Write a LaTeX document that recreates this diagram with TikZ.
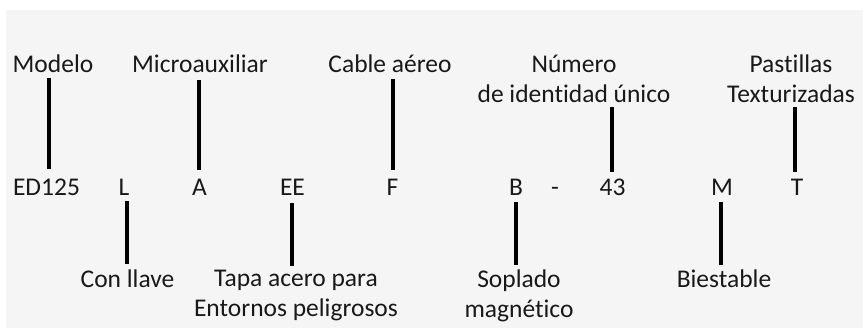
\documentclass[tikz,border=0pt]{standalone}
\usepackage{fontspec}
\setmainfont{Carlito}[RawFeature={-liga}]
\definecolor{txt}{RGB}{25,25,25}
\definecolor{bgc}{RGB}{245,245,245}
\begin{document}
\begin{tikzpicture}[x=1pt,y=-1pt,
  lbl/.style={anchor=base,inner sep=0pt,text=txt,font=\fontsize{25.5}{29.5}\selectfont,align=center},
  conn/.style={line width=3.6pt,black}]
\useasboundingbox (0,0) rectangle (863,328);
\fill[bgc] (6,10) rectangle (863,328);
% top labels
\node[lbl] (modelo) at (53,73) {Modelo};
\node[lbl] (micro) at (200,73) {Microauxiliar};
\node[lbl] (cable) at (390,73) {Cable aéreo};
\node[lbl,anchor=north] (numero) at (574,55) {Número\\de identidad único};
\node[lbl,anchor=north] (pastillas) at (791,55) {Pastillas\\Texturizadas};
% middle row
\node[lbl] (ed) at (46.5,196) {ED125};
\node[lbl] (l) at (124,196) {L};
\node[lbl] (a) at (199.5,196) {A};
\node[lbl] (ee) at (292.5,196) {EE};
\node[lbl] (f) at (392.5,196) {F};
\node[lbl] (b) at (516,196) {B};
\node[lbl] (dash) at (555,196) {-};
\node[lbl] (n43) at (612.5,196) {43};
\node[lbl] (m) at (722,196) {M};
\node[lbl] (t) at (797,196) {T};
% bottom labels
\node[lbl] (llave) at (127.5,288) {Con llave};
\node[lbl,anchor=north] (tapa) at (296,270) {Tapa acero para\\Entornos peligrosos};
\node[lbl,anchor=north] (soplado) at (519,270) {Soplado\\magnético};
\node[lbl] (biest) at (724,288) {Biestable};
% connector end points
\coordinate (c1a) at (49,78);  \coordinate (c1b) at (49,169);
\coordinate (c2a) at (199,80); \coordinate (c2b) at (199,170);
\coordinate (c3a) at (393,79); \coordinate (c3b) at (393,170);
\coordinate (c4a) at (612,107); \coordinate (c4b) at (612,172);
\coordinate (c5a) at (795,107); \coordinate (c5b) at (795,172);
\coordinate (d1a) at (127,201); \coordinate (d1b) at (127,264);
\coordinate (d2a) at (292,203); \coordinate (d2b) at (292,266);
\coordinate (d3a) at (516,202); \coordinate (d3b) at (516,265);
\coordinate (d4a) at (721,202); \coordinate (d4b) at (721,265);
\draw[conn] (c1a) -- (c1b);
\draw[conn] (c2a) -- (c2b);
\draw[conn] (c3a) -- (c3b);
\draw[conn] (c4a) -- (c4b);
\draw[conn] (c5a) -- (c5b);
\draw[conn] (d1a) -- (d1b);
\draw[conn] (d2a) -- (d2b);
\draw[conn] (d3a) -- (d3b);
\draw[conn] (d4a) -- (d4b);
\end{tikzpicture}
\end{document}
